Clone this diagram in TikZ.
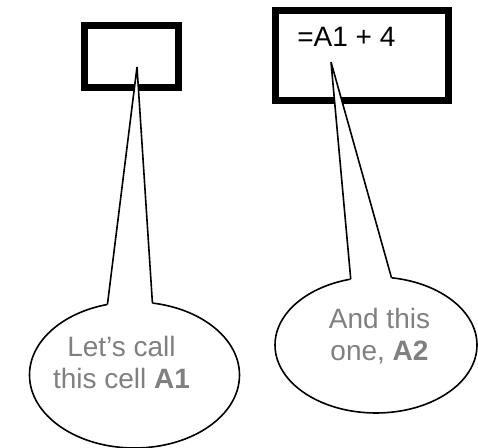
\documentclass[tikz,border=0pt]{standalone}
\usepackage{fontspec}
\setmainfont{Liberation Sans}
\usetikzlibrary{shapes.geometric}

\begin{document}
\begin{tikzpicture}[x=0.75pt,y=-0.75pt,
		cellbox/.style={draw,line width=5.25pt,inner sep=0,outer sep=0},
		bubble/.style={ellipse,draw,line width=1.2pt,fill=white,inner sep=0,outer sep=0},
		tail/.style={line width=1.2pt,line join=miter},
		bubbletext/.style={align=center,text=gray,inner sep=0,font=\fontsize{21}{24.5}\selectfont}]
	\useasboundingbox (0,0) rectangle (478,448);
	% the two cells
	\node[cellbox,minimum width=70.5pt,minimum height=46.5pt] (cellA1) at (131.5,56.5) {};
	\node[cellbox,minimum width=129.75pt,minimum height=67.5pt] (cellA2) at (362,55.5) {};
	\node[anchor=base west,inner sep=0,font=\fontsize{21}{24}\selectfont] (formula) at (297,47) {=A1 + 4};
	\coordinate (tipA1) at (137,67);
	\coordinate (tipA2) at (331,62);
	% callouts
	\node[bubble,minimum width=157.5pt,minimum height=109.5pt] (bubbleA1) at (134.5,375) {};
	\node[bubble,minimum width=151.5pt,minimum height=102pt] (bubbleA2) at (376,345) {};
	\fill[white] (bubbleA1.111.7) -- (tipA1) -- (bubbleA1.76.4) -- ([yshift=-2pt]bubbleA1.76.4) -- ([yshift=-2pt]bubbleA1.111.7) -- cycle;
	\draw[tail] (bubbleA1.111.7) -- (tipA1) -- (bubbleA1.76.4);
	\fill[white] (bubbleA2.111.5) -- (tipA2) -- (bubbleA2.77.7) -- ([yshift=-2pt]bubbleA2.77.7) -- ([yshift=-2pt]bubbleA2.111.5) -- cycle;
	\draw[tail] (bubbleA2.111.5) -- (tipA2) -- (bubbleA2.77.7);
	\node[bubbletext] (noteA1) at (121.5,362.5) {Let’s call\\this cell \textbf{A1}};
	\node[bubbletext] (noteA2) at (379.5,336) {And this\\one, \textbf{A2}};
\end{tikzpicture}
\end{document}
